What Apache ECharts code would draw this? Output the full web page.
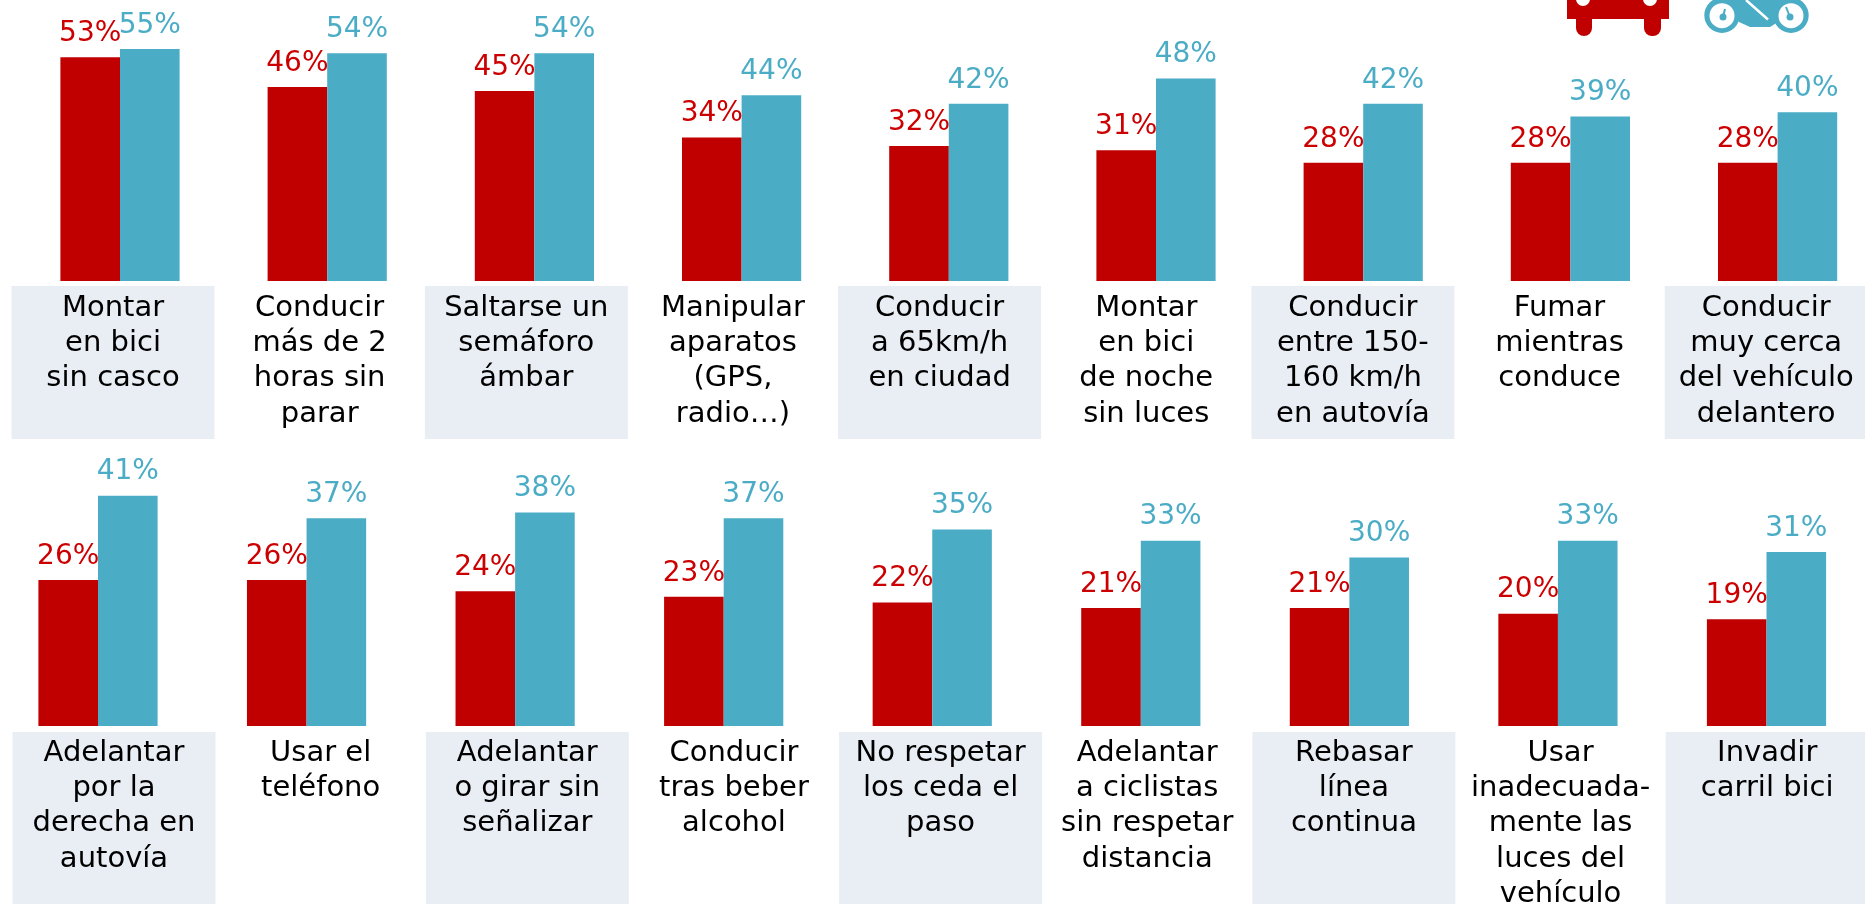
<!DOCTYPE html>
<html>
<head>
<meta charset="utf-8">
<style>
html,body{margin:0;padding:0;background:#fff}
#chart{width:1865px;height:904px}
</style>
<script src="https://cdn.jsdelivr.net/npm/echarts@6/dist/echarts.min.js"></script>
</head>
<body>
<div id="chart"></div>
<script>
const labelsTop = ['Montar\nen bici\nsin casco','Conducir\nmás de 2\nhoras sin\nparar','Saltarse un\nsemáforo\námbar','Manipular\naparatos\n(GPS,\nradio…)','Conducir\na 65km/h\nen ciudad','Montar\nen bici\nde noche\nsin luces','Conducir\nentre 150-\n160 km/h\nen autovía','Fumar\nmientras\nconduce','Conducir\nmuy cerca\ndel vehículo\ndelantero']
const carTop = [53,46,45,34,32,31,28,28,28]
const motoTop = [55,54,54,44,42,48,42,39,40]

const labelsBottom = ['Adelantar\npor la\nderecha en\nautovía','Usar el\nteléfono','Adelantar\no girar sin\nseñalizar','Conducir\ntras beber\nalcohol','No respetar\nlos ceda el\npaso','Adelantar\na ciclistas\nsin respetar\ndistancia','Rebasar\nlínea\ncontinua','Usar\ninadecuada-\nmente las\nluces del\nvehículo','Invadir\ncarril bici']
const carBottom = [26,26,24,23,22,21,21,20,19]
const motoBottom = [41,37,38,37,35,33,30,33,31]

const RED = '#C00000'
const BLUE = '#4BACC6'
const FONT = '"DejaVu Sans"'

// boxes behind every other label
const boxed = (names) => names.map((name, i) => ({
  value: name,
  textStyle: i % 2 === 0 ? { backgroundColor: '#E9EDF4' } : {},
}))

// boundaryGap false: first and last category sit on the grid edges,
// the last columns would not fit in the window otherwise
const barAxis = (names, gridIndex) => ({
  type: 'category', gridIndex, data: names, boundaryGap: false,
  axisLine: { show: false }, axisTick: { show: false }, axisLabel: { show: false },
})

const labelAxis = (names, gridIndex, boxHeight, padTop) => ({
  type: 'category', gridIndex, data: boxed(names), boundaryGap: false,
  axisLine: { show: false }, axisTick: { show: false },
  axisLabel: {
    interval: 0, margin: 0, hideOverlap: false,
    fontFamily: FONT, fontSize: 29, lineHeight: 35.3, color: '#000',
    width: 203, height: boxHeight, verticalAlign: 'top', align: 'center',
    padding: [padTop, 0, 0, 0],
  },
})

const valueAxis = (gridIndex, max) => ({
  type: 'value', gridIndex, min: 0, max, show: false, splitLine: { show: false },
})

const barSeries = (name, data, color, axisIndex) => ({
  type: 'bar', name, data, xAxisIndex: axisIndex, yAxisIndex: axisIndex,
  barWidth: 59.6, barGap: 0, silent: true, clip: false,
  itemStyle: { color },
  label: {
    show: true, position: 'top', distance: 9.5, formatter: '{c}%',
    fontFamily: FONT, fontSize: 28, color: color === RED ? '#CC0000' : BLUE,
  },
})

const option = {
  animation: false,
  backgroundColor: '#fff',
  grid: [
    { left: 120, width: 1657.6, top: 2.5, height: 278.5 },
    { left: 98, width: 1668.5, top: 389, height: 337 },
    // the last label box runs past the window edge, so no outer bounds here
    { left: 113, width: 1653.2, top: 285, height: 1, outerBoundsMode: 'none' },
    { left: 114, width: 1653.2, top: 731, height: 1, outerBoundsMode: 'none' },
  ],
  xAxis: [
    barAxis(labelsTop, 0), barAxis(labelsBottom, 1),
    labelAxis(labelsTop, 2, 148.5, 4.5), labelAxis(labelsBottom, 3, 170.5, 3.5),
  ],
  yAxis: [valueAxis(0, 66), valueAxis(1, 60), valueAxis(2, 1), valueAxis(3, 1)],
  series: [
    barSeries('Coche', carTop, RED, 0),
    barSeries('Moto', motoTop, BLUE, 0),
    barSeries('Coche', carBottom, RED, 1),
    barSeries('Moto', motoBottom, BLUE, 1),
  ],
  // iconos de coche y moto, cortados por arriba
  graphic: [
    { type: 'rect', shape: { x: 1567, y: -5, width: 102, height: 24 }, style: { fill: RED } },
    { type: 'rect', shape: { x: 1576, y: 10, width: 16, height: 26, r: [0, 0, 8, 8] }, style: { fill: RED } },
    { type: 'rect', shape: { x: 1644, y: 10, width: 17, height: 26, r: [0, 0, 8, 8] }, style: { fill: RED } },
    { type: 'circle', shape: { cx: 1583, cy: -1, r: 7 }, style: { fill: '#fff' } },
    { type: 'circle', shape: { cx: 1650, cy: -1, r: 7 }, style: { fill: '#fff' } },
    { type: 'polygon', shape: { points: [[1722, -2], [1791, -2], [1778, 22], [1770, 27], [1750, 27], [1739, 22]] }, style: { fill: BLUE } },
    { type: 'circle', shape: { cx: 1722, cy: 15.2, r: 17.7 }, style: { fill: BLUE } },
    { type: 'circle', shape: { cx: 1791, cy: 15.2, r: 17.7 }, style: { fill: BLUE } },
    { type: 'circle', shape: { cx: 1722, cy: 15.7, r: 12.5 }, style: { fill: '#fff' } },
    { type: 'circle', shape: { cx: 1791, cy: 15.7, r: 12.5 }, style: { fill: '#fff' } },
    { type: 'circle', shape: { cx: 1723, cy: 17, r: 3.5 }, style: { fill: BLUE } },
    { type: 'circle', shape: { cx: 1790, cy: 17, r: 3.5 }, style: { fill: BLUE } },
    { type: 'line', shape: { x1: 1723, y1: 17, x2: 1725, y2: 9 }, style: { stroke: BLUE, lineWidth: 2 } },
    { type: 'line', shape: { x1: 1790, y1: 17, x2: 1786, y2: 7 }, style: { stroke: BLUE, lineWidth: 2 } },
    { type: 'line', shape: { x1: 1746, y1: 0, x2: 1768, y2: 19.5 }, style: { stroke: '#fff', lineWidth: 2.5 } },
  ],
}

const myChart = echarts.init(document.getElementById('chart'))
myChart.setOption(option)
</script>
</body>
</html>
